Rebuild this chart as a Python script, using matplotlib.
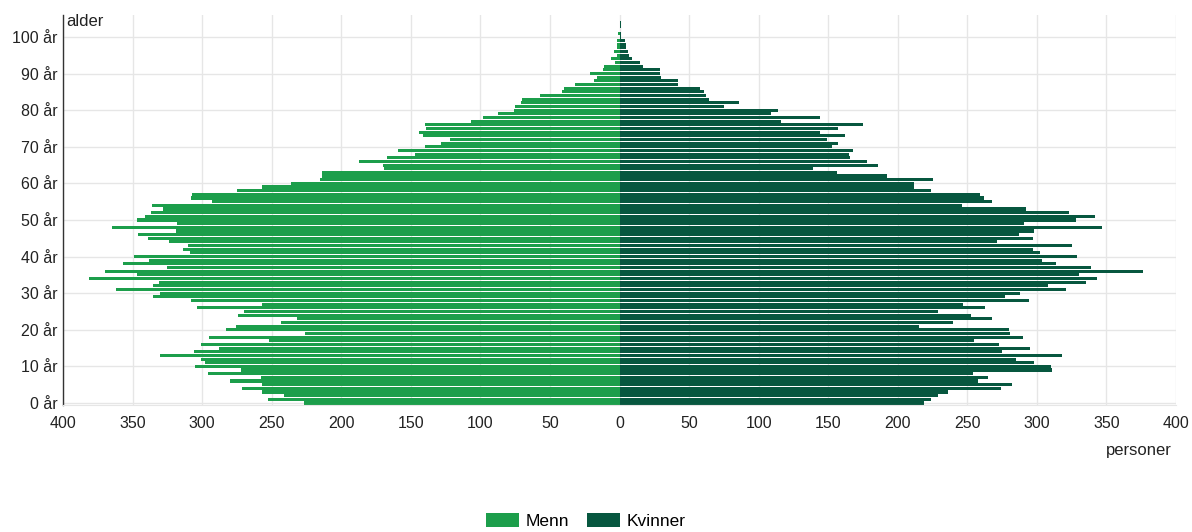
# Population pyramid: men (left) vs women (right) by single year of age

import matplotlib
matplotlib.use('Agg')
import matplotlib.pyplot as plt
import numpy as np

plt.rcParams['font.family'] = ['Liberation Sans', 'DejaVu Sans']

# ages 0..104
ages = list(range(0, 105))

menn = [227, 253, 241, 257, 271, 257, 280, 258, 296, 272,
        305, 298, 301, 330, 306, 288, 301, 252, 295, 226,
        283, 276, 243, 232, 274, 270, 304, 257, 308, 335,
        330, 362, 335, 331, 381, 347, 370, 325, 357, 338,
        349, 309, 314, 310, 324, 339, 346, 319, 365, 318,
        347, 341, 337, 328, 336, 293, 308, 307, 275, 257,
        236, 215, 214, 214, 169, 170, 187, 167, 147, 159,
        140, 128, 122, 141, 144, 139, 140, 107, 98, 87,
        76, 75, 71, 70, 57, 41, 40, 32, 18, 16,
        21, 12, 11, 3, 6, 2, 4, 2, 2, 2,
        0, 1, 0, 0, 0]

kvinner = [219, 224, 229, 236, 274, 282, 258, 265, 254, 311,
           310, 298, 285, 318, 275, 295, 273, 255, 290, 281,
           280, 215, 240, 268, 253, 229, 263, 247, 294, 277,
           288, 321, 308, 335, 343, 330, 376, 339, 314, 304,
           329, 302, 297, 325, 271, 297, 287, 298, 347, 291,
           328, 342, 323, 292, 246, 268, 262, 259, 224, 212,
           212, 225, 192, 156, 139, 186, 178, 166, 165, 168,
           153, 157, 149, 162, 144, 157, 175, 116, 144, 109,
           114, 75, 86, 64, 62, 61, 58, 42, 42, 30,
           29, 29, 17, 15, 9, 7, 6, 5, 5, 4,
           1, 1, 0, 1, 1]

x_ticks = list(range(-400, 401, 50))
y_ticks = list(range(0, 101, 10))

green = '#1c9e4b'
dark_green = '#07573f'
grid_col = '#e6e6e6'
text_col = '#222222'

fig = plt.figure(figsize=(11.92, 5.32), dpi=100)
ax = fig.add_axes([63 / 1192, 1 - 405 / 532, (1176 - 63) / 1192, 390 / 532])

ax.barh(ages, -np.array(menn), height=0.85, color=green, label='Menn', zorder=2)
ax.barh(ages, kvinner, height=0.85, color=dark_green, label='Kvinner', zorder=2)

ax.set_xlim(-400, 400)
ax.set_ylim(-0.55, 106)

ax.set_xticks(x_ticks)
ax.set_xticklabels([str(abs(v)) for v in x_ticks])
ax.set_yticks(y_ticks)
ax.set_yticklabels([f'{v} år' for v in y_ticks])
ax.tick_params(axis='both', length=0, labelsize=11.5, colors=text_col)
ax.tick_params(axis='x', pad=8)
ax.tick_params(axis='y', pad=4)

ax.grid(True, color=grid_col, linewidth=1, zorder=0)
ax.set_axisbelow(True)

for s in ['top', 'right']:
    ax.spines[s].set_visible(False)
ax.spines['bottom'].set_color(grid_col)
ax.spines['left'].set_color('#333333')
ax.spines['left'].set_linewidth(1)

fig.text(66 / 1192, 1 - 22 / 532, 'alder', fontsize=12, color=text_col, va='center', ha='left')
fig.text(1172 / 1192, 1 - 450 / 532, 'personer', fontsize=12, color=text_col, va='center', ha='right')

fig.legend(loc='center', bbox_to_anchor=(586 / 1192, 1 - 521 / 532), ncol=2, frameon=False,
           fontsize=12.5, handlelength=1.9, handleheight=0.9, handletextpad=0.4, columnspacing=1.0,
           borderpad=0)

fig.savefig('out.png', dpi=100)
